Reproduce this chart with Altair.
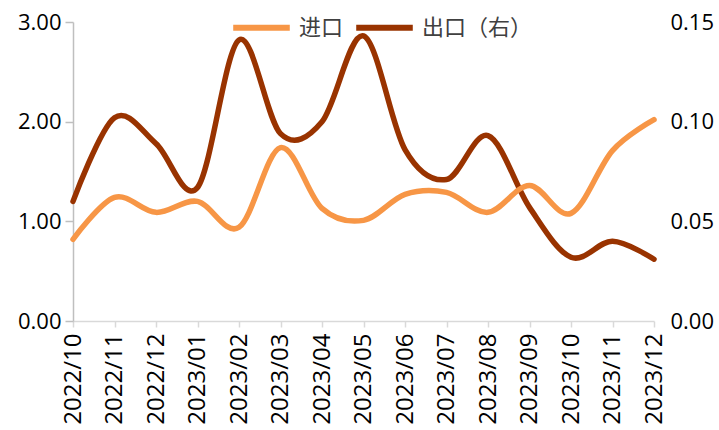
import altair as alt
import pandas as pd

months = ["2022/10", "2022/11", "2022/12", "2023/01", "2023/02", "2023/03", "2023/04",
          "2023/05", "2023/06", "2023/07", "2023/08", "2023/09", "2023/10", "2023/11", "2023/12"]
imports = [0.82, 1.24, 1.09, 1.20, 0.94, 1.74, 1.13, 1.01, 1.27, 1.29, 1.09, 1.36, 1.08, 1.71, 2.02]
exports = [0.060, 0.102, 0.089, 0.067, 0.141, 0.094, 0.100, 0.143, 0.086, 0.071, 0.093, 0.057, 0.032, 0.040, 0.031]
series_names = ["进口", "出口（右）"]
colors = ["#F79646", "#993300"]

df = pd.DataFrame({
    "month": months * 2,
    "series": [series_names[0]] * len(months) + [series_names[1]] * len(months),
    "value": imports + exports,
})

FONT = "Open Sans"
CJK = "Noto Sans CJK SC"

x_enc = alt.X("month:O", sort=months, title=None,
              scale=alt.Scale(type="point", padding=0),
              axis=alt.Axis(labelAngle=270, labelAlign="right", labelBaseline="middle",
                            labelFontSize=24, labelFont=FONT, labelColor="#000000",
                            labelPadding=6, domainColor="#D9D9D9", domainWidth=1.5,
                            tickColor="#D9D9D9", tickSize=6, tickWidth=1.5, grid=False))

color_enc = alt.Color("series:N", sort=series_names,
                      scale=alt.Scale(domain=series_names, range=colors),
                      legend=alt.Legend(title=None, orient="none", direction="horizontal",
                                        legendX=157, legendY=-26,
                                        symbolType="stroke", symbolSize=3200,
                                        symbolStrokeWidth=6, labelFont=CJK,
                                        labelFontSize=22, labelColor="#404040",
                                        labelOffset=6, columnPadding=0))

left = alt.Chart(df).transform_filter(alt.datum.series == series_names[0]).mark_line(
    interpolate="cardinal", strokeWidth=5.5, strokeCap="round").encode(
    x=x_enc,
    y=alt.Y("value:Q", title=None,
            scale=alt.Scale(domain=[0, 3], nice=False),
            axis=alt.Axis(values=[0, 1, 2, 3], format=".2f", labelFontSize=22,
                          labelFont=FONT, labelColor="#000000", labelPadding=4,
                          domainColor="#BFBFBF", domainWidth=1.5, tickColor="#BFBFBF",
                          tickSize=8, tickWidth=1.5, grid=False)),
    color=color_enc,
)

right = alt.Chart(df).transform_filter(alt.datum.series == series_names[1]).mark_line(
    interpolate="cardinal", strokeWidth=5.5, strokeCap="round").encode(
    x=x_enc,
    y=alt.Y("value:Q", title=None,
            scale=alt.Scale(domain=[0, 0.15], nice=False),
            axis=alt.Axis(orient="right", values=[0, 0.05, 0.1, 0.15], format=".2f",
                          labelFontSize=22, labelFont=FONT, labelColor="#000000",
                          labelPadding=16, domain=False, ticks=False, grid=False)),
    color=color_enc,
)

chart = alt.layer(right, left).resolve_scale(y="independent").properties(
    width=581, height=299,
    autosize=alt.AutoSizeParams(type="none"),
    padding={"left": 73, "top": 22, "right": 65, "bottom": 109},
    background="white",
).configure_view(stroke=None)

chart.save("out.html", embed_options={"renderer": "svg", "actions": False})
